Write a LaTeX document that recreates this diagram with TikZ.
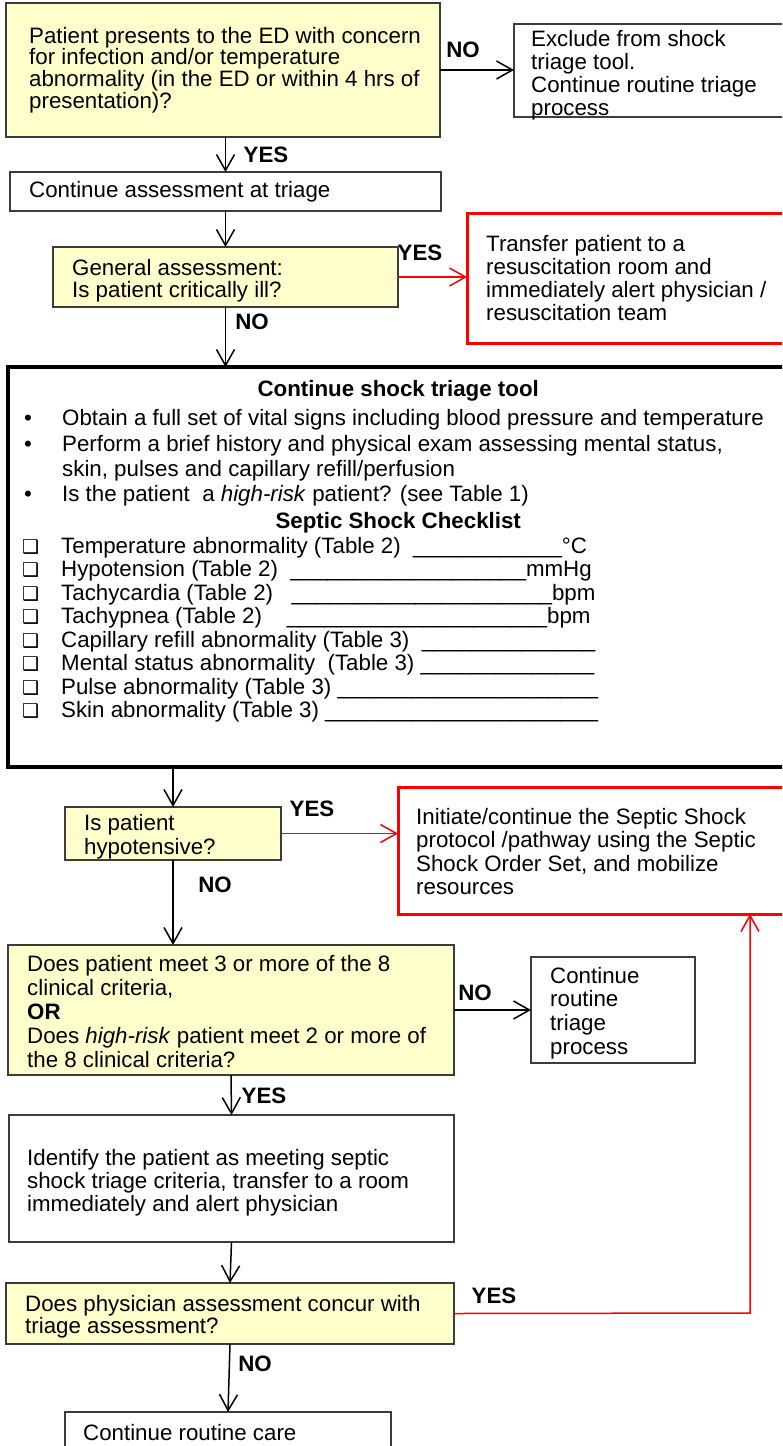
\documentclass[tikz,border=0pt]{standalone}
\usepackage{fontspec}
\setmainfont{Liberation Sans}
\newfontfamily\symfont{DejaVu Sans}
\usetikzlibrary{arrows.meta}

\definecolor{paleyellow}{RGB}{255,255,204}
\definecolor{boxgray}{RGB}{60,60,60}
\definecolor{alertred}{RGB}{255,0,0}

\newcommand\boxfont[1]{\fontsize{22.3}{#1}\selectfont}
\newcommand\fillin[1]{\foreach \n in {1,...,#1}{\_}}
\newcommand\bulitem{\makebox[40pt][l]{\hspace{2pt}\textbullet}}
\newcommand\chkitem{\makebox[39pt][l]{{\symfont\fontsize{19}{19}\selectfont ❑}}}

\tikzset{
  box/.style={draw=boxgray, line width=1.3pt, fill=white, anchor=north west, inner sep=0pt, outer sep=0pt},
  qbox/.style={box, fill=paleyellow},
  alertbox/.style={draw=alertred, line width=3pt, fill=white, anchor=north west, inner sep=0pt, outer sep=0pt},
  toolbox/.style={draw=black, line width=3.5pt, fill=white, anchor=north west, inner sep=0pt, outer sep=0pt},
  txt/.style={anchor=west, align=left, inner ysep=0pt, inner xsep=#1},
  arr/.style={-{Straight Barb[length=16pt,width=18pt]}, line width=1.5pt},
  redarr/.style={arr, draw=alertred},
  ans/.style={font=\boxfont{23}\bfseries, inner sep=0pt}
}

\begin{document}
\begin{tikzpicture}[x=1pt, y=-1pt, font=\boxfont{23}]
  \useasboundingbox (0,0) rectangle (782,1446);
  \clip (0,0) rectangle (782,1446);

  % entry question
  \node[qbox, minimum width=434pt, minimum height=134pt,
    label={[txt=23pt, font=\boxfont{21.7}]west:{Patient presents to the ED with concern\\for infection and/or temperature\\abnormality (in the ED or within 4 hrs of\\presentation)?}}] (infect) at (6,3) {};
  \node[box, minimum width=290pt, minimum height=93pt,
    label={[txt=17pt, yshift=-5pt]west:{Exclude from shock\\triage tool.\\Continue routine triage\\process}}] (exclude) at (514,24) {};
  \node[box, minimum width=431pt, minimum height=39pt,
    label={[txt=19pt]west:{Continue assessment at triage}}] (assess) at (10,172) {};

  % critically ill?
  \node[qbox, minimum width=345pt, minimum height=60pt,
    label={[txt=19pt, yshift=-3.5pt, font=\boxfont{22}]west:{General assessment:\\Is patient critically ill?}}] (general) at (53,247) {};
  \node[alertbox, minimum width=340pt, minimum height=130pt,
    label={[txt=19pt]west:{Transfer patient to a\\resuscitation room and\\immediately alert physician /\\resuscitation team}}] (resus) at (467,213) {};

  % shock triage tool
  \node[toolbox, minimum width=800pt, minimum height=400pt,
    label={[txt=0pt, anchor=north west, xshift=14pt, yshift=-13pt, font=\boxfont{23.5}]north west:{%
      \makebox[752pt]{\bfseries Continue shock triage tool}\\[5.5pt]
      \bulitem Obtain a full set of vital signs including blood pressure and temperature\\[2.5pt]
      \bulitem Perform a brief history and physical exam assessing mental status,\\[1.5pt]
      \hspace*{40pt}skin, pulses and capillary refill/perfusion\\[1.5pt]
      \bulitem Is the patient\ \ a \textit{high-risk} patient? (see Table 1)\\[3.5pt]
      \makebox[752pt]{\bfseries Septic Shock Checklist}\\[1.5pt]
      \chkitem Temperature abnormality (Table 2)\ \ \fillin{12}°C\\
      \chkitem Hypotension (Table 2)\ \ \fillin{19}mmHg\\
      \chkitem Tachycardia (Table 2)\ \ \ \fillin{21}bpm\\
      \chkitem Tachypnea (Table 2)\ \ \ \ \fillin{21}bpm\\
      \chkitem Capillary refill abnormality (Table 3)\ \ \fillin{14}\\
      \chkitem Mental status abnormality\ \ (Table 3) \fillin{14}\\
      \chkitem Pulse abnormality (Table 3) \fillin{21}\\
      \chkitem Skin abnormality (Table 3) \fillin{22}}}] (tool) at (8,367) {};

  % hypotension
  \node[qbox, minimum width=216pt, minimum height=53pt,
    label={[txt=19pt, yshift=-3pt, font=\boxfont{24}]west:{Is patient\\hypotensive?}}] (hypo) at (65,807) {};
  \node[alertbox, minimum width=410pt, minimum height=127pt,
    label={[txt=18pt, yshift=-1pt, font=\boxfont{23.5}]west:{Initiate/continue the Septic Shock\\protocol /pathway using the Septic\\Shock Order Set, and mobilize\\resources}}] (septic) at (398,787) {};

  % clinical criteria
  \node[qbox, minimum width=446pt, minimum height=130pt,
    label={[txt=19pt, yshift=-2pt, font=\boxfont{24}]west:{Does patient meet 3 or more of the 8\\clinical criteria,\\\textbf{OR}\\Does \textit{high-risk} patient meet 2 or more of\\the 8 clinical criteria?}}] (meet) at (8,945) {};
  \node[box, minimum width=164pt, minimum height=106pt,
    label={[txt=19pt, yshift=-3pt, font=\boxfont{23.7}]west:{Continue\\routine\\triage\\process}}] (routine) at (531,957) {};
  \node[box, minimum width=445pt, minimum height=127pt,
    label={[txt=18pt, yshift=-4pt]west:{Identify the patient as meeting septic\\shock triage criteria, transfer to a room\\immediately and alert physician}}] (identify) at (9,1115) {};

  % physician review
  \node[qbox, minimum width=448pt, minimum height=61pt,
    label={[txt=19pt, yshift=-3pt, font=\boxfont{22}]west:{Does physician assessment concur with\\triage assessment?}}] (physician) at (6,1283) {};
  \node[box, minimum width=326pt, minimum height=42pt,
    label={[txt=18pt]west:{Continue routine care}}] (care) at (65,1412) {};

  \coordinate (loop) at (750,1313);

  % connectors
  \draw[arr] (infect.east) -- (infect.east -| exclude.west);
  \draw[arr] (assess.north |- infect.south) -- (assess.north);
  \draw[arr] (assess.south) -- (general.north);
  \draw[redarr] (general.east) -- (general.east -| resus.west);
  \draw[arr] (general.south) -- (general.south |- tool.north);
  \draw[arr] (hypo.north |- tool.south) -- (hypo.north);
  \draw[redarr] (hypo.east) -- (hypo.east -| septic.west);
  \draw[arr] (hypo.south) -- (hypo.south |- meet.north);
  \draw[arr] (meet.east) -- (meet.east -| routine.west);
  \draw[arr] (meet.south) -- (identify.north);
  \draw[arr] (identify.south) -- (physician.north);
  \draw[redarr] (physician.east) -- (loop) -- (loop |- septic.south);
  \draw[arr] (physician.south) -- (care.north);

  % answers
  \node[ans] (no1) at (463,50) {NO};
  \node[ans] (yes1) at (266,155) {YES};
  \node[ans] (yes2) at (420,253) {YES};
  \node[ans] (no2) at (252,322) {NO};
  \node[ans] (yes3) at (312,809) {YES};
  \node[ans] (no3) at (215,885) {NO};
  \node[ans] (no4) at (475,993) {NO};
  \node[ans] (yes4) at (264,1096) {YES};
  \node[ans] (yes5) at (494,1296) {YES};
  \node[ans] (no5) at (255,1364) {NO};
\end{tikzpicture}
\end{document}
